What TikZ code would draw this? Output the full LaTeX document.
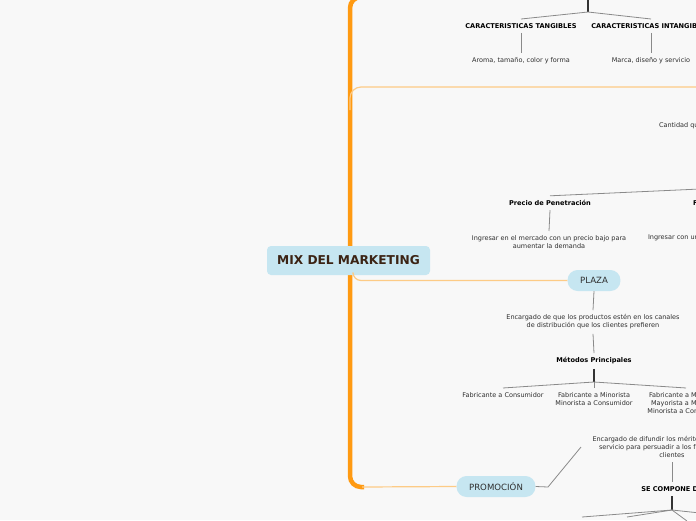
\documentclass[tikz,border=0pt]{standalone}
\usepackage{fontspec}
\setmainfont{DejaVu Sans}
\definecolor{bgc}{HTML}{F8F8F8}
\definecolor{orgc}{HTML}{FF9A12}
\definecolor{lorg}{HTML}{FDCB86}
\definecolor{nodef}{HTML}{C6E6F1}
\definecolor{ctxt}{HTML}{3B2314}
\definecolor{txtc}{HTML}{2E2E2E}
\definecolor{lnc}{HTML}{8A8A8A}
\definecolor{dkc}{HTML}{333333}
\begin{document}
\begin{tikzpicture}[x=1pt,y=-1pt,
  txt/.style={inner sep=0pt, outer ysep=4.5pt, font=\fontsize{6.5}{8}\selectfont, text=txtc, align=center},
  lbl/.style={inner sep=0pt, outer ysep=4.5pt, font=\fontsize{6.6}{8}\selectfont\bfseries, text=black, align=center},
  pill/.style={fill=nodef, rounded corners=10pt, minimum height=21pt, inner xsep=12.5pt, inner ysep=0pt, font=\fontsize{8.6}{10}\selectfont, text=txtc},
  centerbox/.style={fill=nodef, rounded corners=4pt, minimum height=29pt, minimum width=163pt, inner xsep=0pt, inner ysep=0pt, font=\fontsize{12.2}{14}\selectfont\bfseries, text=ctxt},
  conn/.style={draw=lnc, line width=0.8pt},
  dconn/.style={draw=dkc, line width=1.3pt},
  mainline/.style={draw=orgc, line width=4.5pt},
  branch/.style={draw=lorg, line width=1.2pt}]
\fill[bgc] (0,0) rectangle (696,520);
\useasboundingbox (0,0) rectangle (696,520);
\clip (0,0) rectangle (696,520);

% main orange lines
\draw[mainline, rounded corners=11pt] (380,-3) -- (350,-3) -- (350,487) -- (364,487);
\draw[branch, rounded corners=11pt] (350,110) -- (350,87) -- (700,87);

% nodes
\node[centerbox] (mix) at (348.5,260.5) {MIX DEL MARKETING};
\node[pill] (plaza) at (594,280.5) {PLAZA};
\node[pill] (prom) at (496,486.5) {PROMOCIÓN};

\coordinate (pl0) at (353,274);
\draw[branch, rounded corners=8pt] (pl0) -- (353,280.5) -- (plaza.west);
\coordinate (pr0) at (362,487);
\draw[branch] (pr0) -- (prom.west);

% PRODUCTO
\coordinate (ptop) at (588,-2);
\coordinate (pj) at (588,12);
\node[lbl] (ctang) at (521,26) {CARACTERISTICAS TANGIBLES};
\node[lbl] (cintang) at (651,26) {CARACTERISTICAS INTANGIBLES};
\node[txt] (aroma) at (521,61) {Aroma, tamaño, color y forma};
\node[txt] (marca) at (651,61) {Marca, diseño y servicio};
\draw[dconn] (ptop) -- (pj);
\draw[conn] (pj) -- (ctang.north);
\draw[conn] (pj) -- (cintang.north);
\draw[conn] (ctang.south) -- (aroma.north);
\draw[conn] (cintang.south) -- (marca.north);

% PRECIO
\node[txt, anchor=west, outer sep=0pt] (cant) at (659,126) {Cantidad que el cliente paga};
\coordinate (pj2) at (700,189);
\node[lbl] (ppen) at (550,203) {Precio de Penetración};
\node[lbl, anchor=west, outer sep=0pt] (pf) at (693,203) {F};
\node[txt] (ping) at (549,242) {Ingresar en el mercado con un precio bajo para\\aumentar la demanda};
\node[txt, anchor=west, outer sep=0pt] (ping2) at (648,238) {Ingresar con un};
\draw[conn] (pj2) -- (ppen.north);
\draw[conn] (ppen.south) -- (ping.north);

% PLAZA
\node[txt] (penc) at (593,322) {Encargado de que los productos estén en los canales\\de distribución que los clientes prefieren};
\node[lbl] (met) at (594,361) {Métodos Principales};
\coordinate (mj) at (594,382);
\node[txt] (f1) at (503,395) {Fabricante a Consumidor};
\node[txt] (f2) at (594,399) {Fabricante a Minorista\\Minorista a Consumidor};
\node[txt] (f3) at (686,403) {Fabricante a Mayorista\\Mayorista a Minorista\\Minorista a Consumidor};
\draw[conn] (plaza.south) -- (penc.north);
\draw[conn] (penc.south) -- (met.north);
\draw[dconn] (met.south) -- (mj);
\draw[conn] (mj) -- (f1.north);
\draw[conn] (mj) -- (f2.north);
\draw[conn] (mj) -- (f3.north);

% PROMOCION
\node[txt] (penc2) at (672,447) {Encargado de difundir los méritos del producto o\\servicio para persuadir a los futuros posibles\\clientes};
\coordinate (pe1) at (548,487);
\coordinate (pe2) at (581,447);
\draw[conn] (prom.east) -- (pe1) -- (pe2);
\node[lbl] (sec) at (672,489) {SE COMPONE DE};
\coordinate (sj) at (672,510);
\draw[conn] (penc2.south) -- (sec.north);
\draw[dconn] (sec.south) -- (sj);
\coordinate (s1) at (582,517);
\coordinate (s2) at (627,517);
\coordinate (s3) at (687,521);
\coordinate (s4) at (700,513);
\draw[conn] (sj) -- (s1);
\draw[conn] (sj) -- (s2);
\draw[conn] (sj) -- (s3);
\draw[conn] (sj) -- (s4);
\end{tikzpicture}
\end{document}
